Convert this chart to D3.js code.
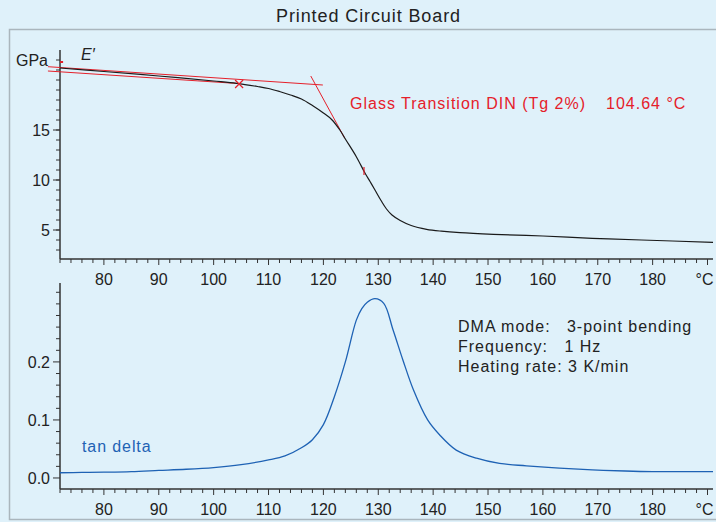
<!DOCTYPE html>
<html><head><meta charset="utf-8">
<script src="https://cdn.jsdelivr.net/npm/d3@7"></script>
<style>
html,body{margin:0;padding:0;background:#dff1fa;}
svg{display:block;font-family:"Liberation Sans",Arial,sans-serif;}
</style></head>
<body>
<svg id="c" width="716" height="522"></svg>
<script>
// ---- data ----
const title = "Printed Circuit Board";
// Storage modulus E' (GPa) vs temperature (°C)
const eTemp  = [72, 80, 90, 100, 104.2, 108, 110, 112, 114, 116, 118, 120, 121.5, 123, 124, 126, 127.6, 128.5, 129.4, 130.5, 131.5, 132.5, 134, 136, 138.8, 141.5, 144.9, 151, 160, 169, 178, 191];
const eValue = [21.2, 20.85, 20.4, 19.9, 19.67, 19.35, 19.15, 18.85, 18.5, 18.1, 17.45, 16.7, 16.05, 15.0, 14.1, 12.33, 10.67, 9.85, 9.0, 7.95, 7.1, 6.5, 5.95, 5.45, 5.07, 4.88, 4.73, 4.57, 4.4, 4.17, 4.0, 3.77];
// tan delta vs temperature
const tdTemp  = [72, 76, 80, 85, 90, 95, 100, 105, 110, 113, 116, 118, 120, 122, 124, 126, 127, 128, 129.4, 131, 132.7, 134.5, 136.4, 139, 141.2, 144.2, 147.9, 152.1, 157, 163, 169, 175, 180, 185, 191];
const tdValue = [0.009, 0.0095, 0.010, 0.011, 0.013, 0.015, 0.018, 0.023, 0.031, 0.038, 0.052, 0.066, 0.092, 0.14, 0.2, 0.272, 0.292, 0.303, 0.309, 0.301, 0.255, 0.203, 0.152, 0.100, 0.074, 0.048, 0.034, 0.025, 0.021, 0.017, 0.014, 0.012, 0.011, 0.011, 0.011];
// evaluation construction lines (temp, GPa)
const tangentA = [[69.8, 21.33], [119.9, 19.5]];
const tangentB = [[69.8, 20.9], [104.4, 19.65]];
const tangentC = [[117.7, 20.4], [123.9, 14.17]];
const tgMarker = [104.64, 19.6];
const inflectionMark = [127.4, 10.9];
const startMark = [72.2, 21.8];
const tgLabel = "Glass Transition DIN (Tg 2%)";
const tgValueLabel = "104.64 °C";
const xTicksMajor = [80, 90, 100, 110, 120, 130, 140, 150, 160, 170, 180, 190];
const eTicksLabeled = [5, 10, 15];
const tdTicksLabeled = [0.0, 0.1, 0.2];
const infoLines = ["DMA mode:   3-point bending", "Frequency:   1 Hz", "Heating rate: 3 K/min"];

// ---- layout ----
const svg = d3.select("#c");
const axisColor = "#333";
const red = "#e5202a";
const blue = "#1e62b4";

svg.append("rect").attr("x", 9.5).attr("y", 29.5).attr("width", 720).attr("height", 490)
  .attr("fill", "none").attr("stroke", "#aab6bd").attr("stroke-width", 1.5);

svg.append("text").attr("x", 276).attr("y", 22)
  .attr("font-size", 18).attr("letter-spacing", 0.9).attr("fill", "#222").text(title);

const x = d3.scaleLinear().domain([72, 191]).range([60, 713]);
const yE = d3.scaleLinear().domain([2.1, 23]).range([259, 50]);
const yT = d3.scaleLinear().domain([-0.019, 0.336]).range([489, 283]);

function xAxis(yPos) {
  const minor = d3.range(72, 191.01, 2).filter(v => v % 10 !== 0);
  const grp = svg.append("g").attr("stroke", axisColor).attr("fill", "none");
  grp.append("line").attr("x1", x.range()[0]).attr("x2", x.range()[1]).attr("y1", yPos).attr("y2", yPos).attr("stroke-width", 1.5);
  grp.selectAll(".mi").data(minor).join("line").attr("x1", d => x(d)).attr("x2", d => x(d)).attr("y1", yPos).attr("y2", yPos + 4);
  grp.selectAll(".ma").data(xTicksMajor).join("line").attr("x1", d => x(d)).attr("x2", d => x(d)).attr("y1", yPos).attr("y2", yPos + 6);
  svg.append("g").selectAll("text").data(xTicksMajor).join("text")
    .attr("x", d => x(d) - (d === 190 ? 3 : 0)).attr("y", yPos + 25.5).attr("text-anchor", "middle")
    .attr("font-size", 16).attr("fill", "#222").text(d => d === 190 ? "°C" : d);
}

function yAxis(scale, minor, labeled, fmt) {
  const r = scale.range();
  const grp = svg.append("g").attr("stroke", axisColor).attr("fill", "none");
  grp.append("line").attr("x1", 60).attr("x2", 60).attr("y1", r[0]).attr("y2", r[1]).attr("stroke-width", 1.5);
  grp.selectAll(".mi").data(minor).join("line").attr("x1", 56).attr("x2", 60).attr("y1", d => scale(d)).attr("y2", d => scale(d));
  grp.selectAll(".ma").data(labeled).join("line").attr("x1", 53).attr("x2", 60).attr("y1", d => scale(d)).attr("y2", d => scale(d));
  svg.append("g").selectAll("text").data(labeled).join("text")
    .attr("x", 50).attr("y", d => scale(d) + 6).attr("text-anchor", "end")
    .attr("font-size", 16).attr("fill", "#222").text(fmt);
}

// ---- top panel ----
xAxis(259);
yAxis(yE, d3.range(3, 22.01, 1), eTicksLabeled, d => d);
svg.append("text").attr("x", 48).attr("y", yE(22) + 6).attr("text-anchor", "end")
  .attr("font-size", 16).attr("fill", "#222").text("GPa");
svg.append("text").attr("x", 81).attr("y", 60).attr("font-size", 16).attr("font-style", "italic")
  .attr("fill", "#222").text("E\u2032");

const lineE = d3.line().x(d => x(d[0])).y(d => yE(d[1])).curve(d3.curveCatmullRom.alpha(0.5));
const redLine = d3.line().x(d => x(d[0])).y(d => yE(d[1]));
[tangentA, tangentB, tangentC].forEach(t => {
  svg.append("path").attr("d", redLine(t)).attr("fill", "none").attr("stroke", red).attr("stroke-width", 1);
});
svg.append("path").attr("d", lineE(eTemp.map((t, i) => [t, eValue[i]])))
  .attr("fill", "none").attr("stroke", "#1a1a1a").attr("stroke-width", 1.2);

// markers
const mx = x(tgMarker[0]), my = yE(tgMarker[1]);
svg.append("path").attr("d", `M${mx-4},${my-4}L${mx+4},${my+4}M${mx-4},${my+4}L${mx+4},${my-4}`)
  .attr("stroke", red).attr("stroke-width", 1.2);
svg.append("line").attr("x1", x(inflectionMark[0])).attr("x2", x(inflectionMark[0]))
  .attr("y1", yE(inflectionMark[1]) - 4).attr("y2", yE(inflectionMark[1]) + 4).attr("stroke", red).attr("stroke-width", 1.2);
svg.append("line").attr("x1", x(startMark[0]) - 1).attr("x2", x(startMark[0]) + 2)
  .attr("y1", yE(startMark[1])).attr("y2", yE(startMark[1])).attr("stroke", red).attr("stroke-width", 2);

svg.append("text").attr("x", 350).attr("y", 109).attr("font-size", 16).attr("letter-spacing", 1)
  .attr("fill", red).text(tgLabel);
svg.append("text").attr("x", 606).attr("y", 109).attr("font-size", 16).attr("letter-spacing", 1)
  .attr("fill", red).text(tgValueLabel);

// ---- bottom panel ----
xAxis(489);
yAxis(yT, d3.range(0.02, 0.331, 0.02).filter(v => Math.abs(v * 10 - Math.round(v * 10)) > 1e-6 || v > 0.25),
  tdTicksLabeled, d => d.toFixed(1));

const lineT = d3.line().x(d => x(d[0])).y(d => yT(d[1])).curve(d3.curveCatmullRom.alpha(0.5));
svg.append("path").attr("d", lineT(tdTemp.map((t, i) => [t, tdValue[i]])))
  .attr("fill", "none").attr("stroke", blue).attr("stroke-width", 1.3);

svg.append("text").attr("x", 82).attr("y", 452).attr("font-size", 16).attr("letter-spacing", 0.9)
  .attr("fill", blue).text("tan delta");

svg.append("g").selectAll("text").data(infoLines).join("text")
  .attr("x", 458).attr("y", (d, i) => 332 + i * 20).attr("font-size", 16).attr("letter-spacing", 1)
  .attr("fill", "#222").attr("xml:space", "preserve").style("white-space", "pre").text(d => d);
</script>
</body></html>
